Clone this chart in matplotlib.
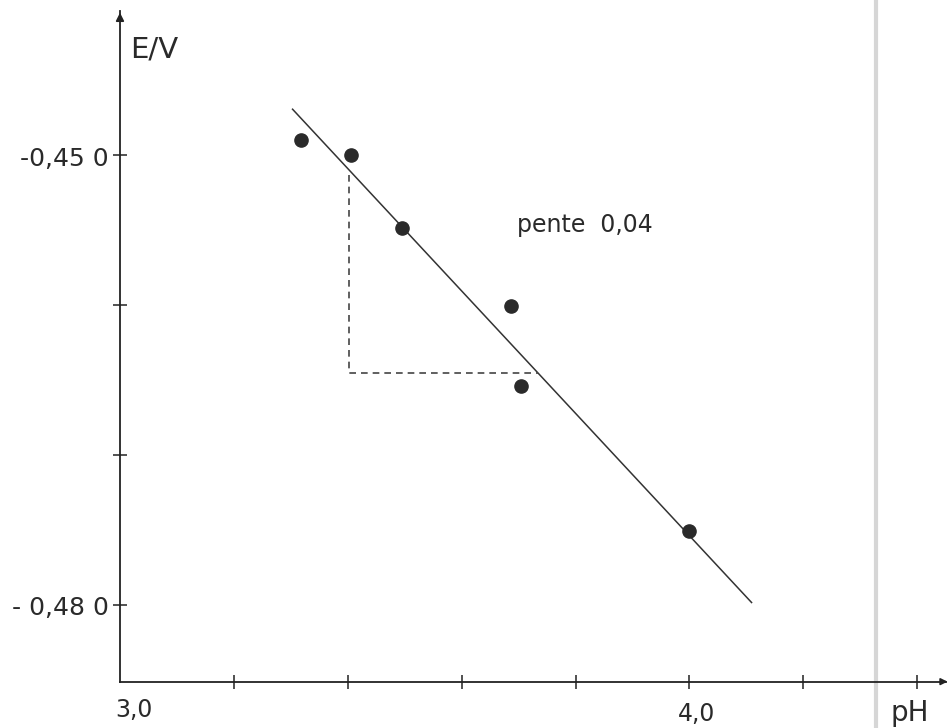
import numpy as np
import matplotlib.pyplot as plt

plt.rcParams['font.family'] = ['DejaVu Sans']

# measured points
ph = [3.317, 3.405, 3.496, 3.687, 3.705, 3.999]
e_v = [-0.4490, -0.4500, -0.4549, -0.4601, -0.4654, -0.4751]

# fitted straight line
slope = 0.0408
fit_ph = [3.303, 4.109]
fit_start = -0.44695

# slope triangle
tri_ph = 3.4026
tri_e = -0.46455

x_ticks = [3.2, 3.4, 3.6, 3.8, 4.0, 4.2, 4.4]
y_ticks = [-0.450, -0.460, -0.470, -0.480]

fig = plt.figure(figsize=(9.51, 7.28), dpi=100)
ax = fig.add_axes([0, 0, 1, 1])
ax.set_xlim(2.7893, 4.4592)
ax.set_ylim(-0.4882, -0.43967)

x_axis_y = -0.48511
for side in ['top', 'right']:
    ax.spines[side].set_visible(False)
ax.spines['left'].set_position(('data', 3.0))
ax.spines['bottom'].set_position(('data', x_axis_y))
ax.spines['left'].set_bounds(x_axis_y, -0.4404)
ax.spines['bottom'].set_bounds(3.0, 4.45)
for side in ['left', 'bottom']:
    ax.spines[side].set_linewidth(1.3)
    ax.spines[side].set_color('#222222')

ax.set_xticks(x_ticks)
ax.set_yticks(y_ticks)
ax.tick_params(direction='inout', length=10, width=1.1, color='#222222',
               labelbottom=False, labelleft=False)

# arrow heads on the axes
ax.annotate('', xy=(3.0, -0.44033), xytext=(3.0, -0.4412),
            arrowprops=dict(arrowstyle='-|>', color='#222222', lw=1.2,
                            mutation_scale=12))
ax.annotate('', xy=(4.458, x_axis_y), xytext=(4.44, x_axis_y),
            arrowprops=dict(arrowstyle='-|>', color='#222222', lw=1.2,
                            mutation_scale=10))

# light vertical line at the right
ax.axvline(4.3276, color='#d6d6d6', lw=3, zorder=0)

fit_e = [fit_start, fit_start - slope * (fit_ph[1] - fit_ph[0])]
ax.plot(fit_ph, fit_e, color='#333333', lw=1.1)

line_at = fit_start - slope * (tri_ph - fit_ph[0])
hit_ph = fit_ph[0] + (fit_start - tri_e) / slope
ax.plot([tri_ph, tri_ph, hit_ph], [line_at - 0.0003, tri_e, tri_e],
        color='#444444', lw=1.2, ls=(0, (4, 3)))

ax.plot(ph, e_v, 'o', color='#2a2a2a', markersize=9.5)

txt = dict(color='#2a2a2a', va='baseline')
ax.text(3.018, -0.44347, 'E/V', fontsize=21, ha='left', **txt)
ax.text(2.98, -0.45073, '-0,45 0', fontsize=18, ha='right', **txt)
ax.text(2.98, -0.48067, '- 0,48 0', fontsize=18, ha='right', **txt)
ax.text(3.024, -0.48747, '3,0', fontsize=17, ha='center', **txt)
ax.text(4.013, -0.48773, '4,0', fontsize=17, ha='center', **txt)
ax.text(4.387, -0.48773, 'pH', fontsize=20, ha='center', **txt)
ax.text(3.697, -0.45513, 'pente  ' + f'{slope:.2f}'.replace('.', ','),
        fontsize=17, ha='left', **txt)

fig.savefig('out.png', dpi=100)
